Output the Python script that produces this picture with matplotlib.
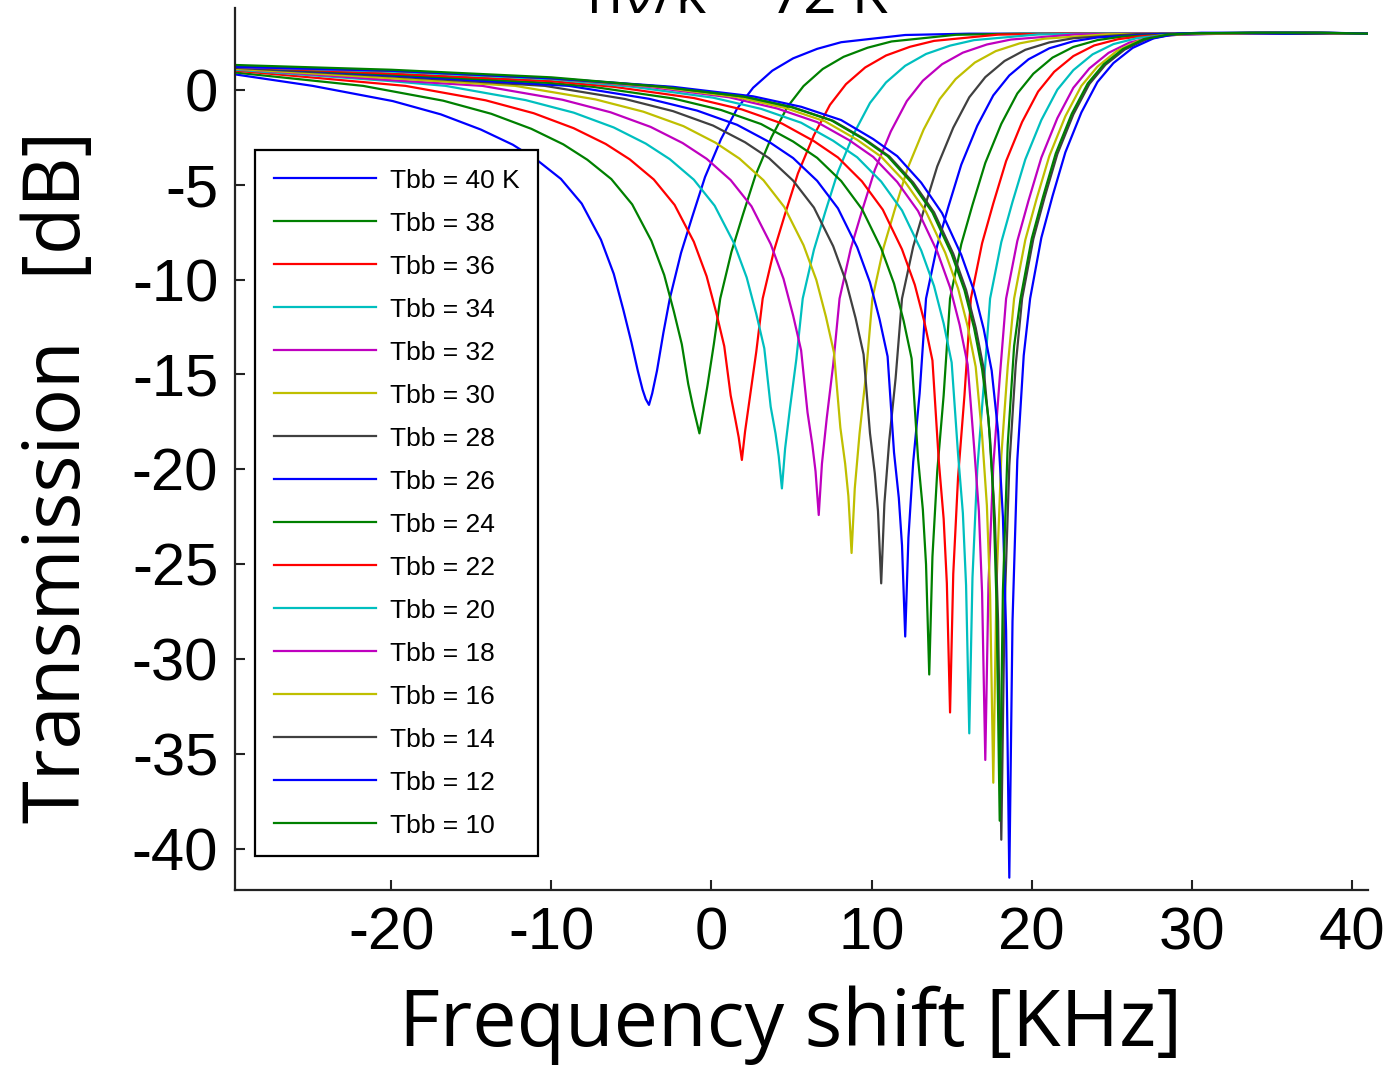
import matplotlib
matplotlib.use('Agg')
import matplotlib.pyplot as plt

plt.rcParams['axes.unicode_minus'] = False

# --- data: frequency shift [KHz] and transmission [dB] per curve
tbb_labels = ['Tbb = 40 K', 'Tbb = 38', 'Tbb = 36', 'Tbb = 34', 'Tbb = 32', 'Tbb = 30',
              'Tbb = 28', 'Tbb = 26', 'Tbb = 24', 'Tbb = 22', 'Tbb = 20', 'Tbb = 18',
              'Tbb = 16', 'Tbb = 14', 'Tbb = 12', 'Tbb = 10']

shift_40 = [-29.7, -24.9, -19.9, -16.9, -14.4, -12.4, -10.9, -9.4, -8.1, -6.9, -6.1, -5.5, -5.0, -4.6, -4.3, -4.1, -3.9,
            -3.7, -3.4, -3.0, -2.6, -1.9, -1.2, -0.4, 0.6, 1.6, 2.6, 3.8, 5.1, 6.6, 8.1, 12.1, 16.1, 41]
trans_40 = [0.8, 0.2, -0.6, -1.3, -2.1, -2.9, -3.7, -4.7, -6.0, -7.9, -9.7, -11.6, -13.3, -14.8, -15.8, -16.3, -16.6,
            -16.0, -14.8, -12.8, -11.0, -8.6, -6.7, -4.6, -2.6, -1.0, 0.1, 1.0, 1.65, 2.15, 2.5, 2.88, 2.95, 2.95]

shift_38 = [-29.7, -21.75, -16.75, -13.75, -11.25, -9.25, -7.75, -6.25, -4.95, -3.75, -2.95, -2.35, -1.85, -1.45, -1.15, -0.95, -0.75,
            -0.55, -0.25, 0.15, 0.55, 1.25, 1.95, 2.75, 3.75, 4.75, 5.75, 6.95, 8.25, 9.75, 11.25, 15.25, 19.25, 41]
trans_38 = [0.9, 0.2, -0.58, -1.27, -2.06, -2.88, -3.69, -4.71, -6.04, -7.96, -9.76, -11.67, -13.41, -15.5, -16.7, -17.4, -18.1,
            -17.1, -15.6, -13.4, -11.0, -8.54, -6.62, -4.51, -2.5, -0.9, 0.19, 1.09, 1.73, 2.21, 2.54, 2.89, 2.95, 2.95]

shift_36 = [-29.7, -19.1, -14.1, -11.1, -8.6, -6.6, -5.1, -3.6, -2.3, -1.1, -0.3, 0.3, 0.8, 1.2, 1.5, 1.7, 1.9,
            2.1, 2.4, 2.8, 3.2, 3.9, 4.6, 5.4, 6.4, 7.4, 8.4, 9.6, 10.9, 12.4, 13.9, 17.9, 21.9, 41]
trans_36 = [1.0, 0.2, -0.56, -1.24, -2.03, -2.86, -3.67, -4.73, -6.07, -8.01, -9.83, -11.74, -13.51, -16.1, -17.4, -18.3, -19.5,
            -18.0, -16.2, -13.8, -11.0, -8.49, -6.54, -4.41, -2.4, -0.8, 0.29, 1.17, 1.8, 2.26, 2.57, 2.9, 2.95, 2.95]

shift_34 = [-29.7, -20, -16.6, -11.6, -8.6, -6.1, -4.1, -2.6, -1.1, 0.2, 1.4, 2.2, 2.8, 3.3, 3.7, 4.0, 4.2, 4.4,
            4.6, 4.9, 5.3, 5.7, 6.4, 7.1, 7.9, 8.9, 9.9, 10.9, 12.1, 13.4, 14.9, 16.4, 20.4, 24.4, 41]
trans_34 = [1.05, 0.45, 0.2, -0.55, -1.21, -1.99, -2.84, -3.66, -4.74, -6.11, -8.07, -9.89, -11.81, -13.62, -16.7, -18.1, -19.3, -21.0,
            -18.9, -16.8, -14.2, -11.0, -8.43, -6.46, -4.32, -2.3, -0.7, 0.38, 1.26, 1.88, 2.32, 2.61, 2.91, 2.95, 2.95]

shift_32 = [-29.7, -20, -14.3, -9.3, -6.3, -3.8, -1.8, -0.3, 1.2, 2.5, 3.7, 4.5, 5.1, 5.6, 6.0, 6.3, 6.5, 6.7,
            6.9, 7.2, 7.6, 8.0, 8.7, 9.4, 10.2, 11.2, 12.2, 13.2, 14.4, 15.7, 17.2, 18.7, 22.7, 26.7, 41]
trans_32 = [1.1, 0.5, 0.2, -0.53, -1.19, -1.96, -2.81, -3.64, -4.76, -6.14, -8.13, -9.96, -11.89, -13.73, -17.0, -18.7, -20.1, -22.4,
            -19.7, -17.3, -14.5, -11.0, -8.37, -6.39, -4.23, -2.2, -0.6, 0.47, 1.34, 1.95, 2.38, 2.64, 2.91, 2.95, 2.95]

shift_30 = [-29.7, -20, -12.25, -7.25, -4.25, -1.75, 0.25, 1.75, 3.25, 4.55, 5.75, 6.55, 7.15, 7.65, 8.05, 8.35, 8.55, 8.75,
            8.95, 9.25, 9.65, 10.05, 10.75, 11.45, 12.25, 13.25, 14.25, 15.25, 16.45, 17.75, 19.25, 20.75, 24.75, 28.75, 41]
trans_30 = [1.1, 0.6, 0.2, -0.51, -1.16, -1.92, -2.79, -3.63, -4.77, -6.18, -8.19, -10.02, -11.96, -13.84, -17.8, -19.7, -21.4, -24.4,
            -21.0, -18.1, -15.0, -11.0, -8.31, -6.31, -4.14, -2.1, -0.5, 0.56, 1.43, 2.03, 2.44, 2.68, 2.92, 2.95, 2.95]

shift_28 = [-29.7, -20, -10.4, -5.4, -2.4, 0.1, 2.1, 3.6, 5.1, 6.4, 7.6, 8.4, 9.0, 9.5, 9.9, 10.2, 10.4, 10.6,
            10.8, 11.1, 11.5, 11.9, 12.6, 13.3, 14.1, 15.1, 16.1, 17.1, 18.3, 19.6, 21.1, 22.6, 26.6, 30.6, 41]
trans_28 = [1.15, 0.7, 0.2, -0.49, -1.13, -1.89, -2.77, -3.61, -4.79, -6.21, -8.24, -10.09, -12.03, -13.94, -18.1, -20.2, -22.2, -26.0,
            -21.8, -18.5, -15.2, -11.0, -8.26, -6.23, -4.04, -2.0, -0.4, 0.66, 1.51, 2.1, 2.49, 2.71, 2.93, 2.95, 2.95]

shift_26 = [-29.7, -20, -8.9, -3.9, -0.9, 1.6, 3.6, 5.1, 6.6, 7.9, 9.1, 9.9, 10.5, 11.0, 11.4, 11.7, 11.9, 12.1,
            12.3, 12.6, 13.0, 13.4, 14.1, 14.8, 15.6, 16.6, 17.6, 18.6, 19.8, 21.1, 22.6, 24.1, 28.1, 32.1, 41]
trans_26 = [1.2, 0.75, 0.2, -0.48, -1.1, -1.85, -2.75, -3.6, -4.8, -6.25, -8.3, -10.15, -12.1, -14.05, -19.1, -21.5, -24.0, -28.8,
            -23.6, -19.6, -16.0, -11.0, -8.2, -6.15, -3.95, -1.9, -0.3, 0.75, 1.6, 2.18, 2.55, 2.75, 2.94, 2.95, 2.95]

shift_24 = [-29.7, -20, -10, -7.4, -2.4, 0.6, 3.1, 5.1, 6.6, 8.1, 9.4, 10.6, 11.4, 12.0, 12.5, 12.9, 13.2, 13.4, 13.6,
            13.8, 14.1, 14.5, 14.9, 15.6, 16.3, 17.1, 18.1, 19.1, 20.1, 21.3, 22.6, 24.1, 25.6, 29.6, 33.6, 41]
trans_24 = [1.2, 0.8, 0.35, 0.15, -0.46, -1.07, -1.81, -2.73, -3.59, -4.81, -6.29, -8.36, -10.21, -12.17, -14.16, -19.4, -22.1, -25.0, -30.8,
            -24.6, -20.1, -16.1, -11.0, -8.14, -6.07, -3.86, -1.8, -0.2, 0.84, 1.69, 2.25, 2.61, 2.79, 2.95, 3.0, 2.95]

shift_22 = [-29.7, -20, -10, -6.1, -1.1, 1.9, 4.4, 6.4, 7.9, 9.4, 10.7, 11.9, 12.7, 13.3, 13.8, 14.2, 14.5, 14.7, 14.9,
            15.1, 15.4, 15.8, 16.2, 16.9, 17.6, 18.4, 19.4, 20.4, 21.4, 22.6, 23.9, 25.4, 26.9, 30.9, 34.9, 41]
trans_22 = [1.2, 0.85, 0.45, 0.15, -0.44, -1.04, -1.78, -2.71, -3.57, -4.83, -6.32, -8.41, -10.28, -12.24, -14.26, -19.6, -22.6, -26.0, -32.8,
            -25.5, -20.4, -16.1, -11.0, -8.09, -5.99, -3.76, -1.7, -0.1, 0.94, 1.77, 2.33, 2.66, 2.82, 2.96, 3.0, 2.95]

shift_20 = [-29.7, -20, -10, -4.9, 0.1, 3.1, 5.6, 7.6, 9.1, 10.6, 11.9, 13.1, 13.9, 14.5, 15.0, 15.4, 15.7, 15.9, 16.1,
            16.3, 16.6, 17.0, 17.4, 18.1, 18.8, 19.6, 20.6, 21.6, 22.6, 23.8, 25.1, 26.6, 28.1, 32.1, 36.1, 41]
trans_20 = [1.2, 0.95, 0.55, 0.15, -0.42, -1.01, -1.74, -2.69, -3.56, -4.84, -6.36, -8.47, -10.34, -12.31, -14.37, -19.2, -22.3, -26.1, -33.9,
            -25.7, -20.0, -15.6, -11.0, -8.03, -5.91, -3.67, -1.6, 0.0, 1.03, 1.86, 2.4, 2.72, 2.86, 2.97, 3.0, 2.95]

shift_18 = [-29.7, -20, -10, -3.9, 1.1, 4.1, 6.6, 8.6, 10.1, 11.6, 12.9, 14.1, 14.9, 15.5, 16.0, 16.4, 16.7, 16.9, 17.1,
            17.3, 17.6, 18.0, 18.4, 19.1, 19.8, 20.6, 21.6, 22.6, 23.6, 24.8, 26.1, 27.6, 29.1, 33.1, 37.1, 41]
trans_18 = [1.2, 1.0, 0.6, 0.15, -0.4, -0.99, -1.71, -2.66, -3.54, -4.86, -6.39, -8.53, -10.41, -12.39, -14.48, -18.8, -22.2, -26.5, -35.3,
            -26.0, -19.8, -15.2, -11.0, -7.97, -5.84, -3.58, -1.5, 0.1, 1.12, 1.94, 2.48, 2.78, 2.89, 2.97, 3.0, 2.95]

shift_16 = [-29.7, -20, -10, -3.4, 1.6, 4.6, 7.1, 9.1, 10.6, 12.1, 13.4, 14.6, 15.4, 16.0, 16.5, 16.9, 17.2, 17.4, 17.6,
            17.8, 18.1, 18.5, 18.9, 19.6, 20.3, 21.1, 22.1, 23.1, 24.1, 25.3, 26.6, 28.1, 29.6, 33.6, 37.6, 41]
trans_16 = [1.25, 1.0, 0.6, 0.15, -0.39, -0.96, -1.67, -2.64, -3.53, -4.87, -6.43, -8.59, -10.47, -12.46, -14.59, -18.2, -21.9, -26.6, -36.5,
            -26.1, -19.3, -14.6, -11.0, -7.91, -5.76, -3.49, -1.4, 0.2, 1.21, 2.03, 2.55, 2.84, 2.93, 2.98, 3.0, 2.95]

shift_14 = [-29.7, -20, -10, -2.9, 2.1, 5.1, 7.6, 9.6, 11.1, 12.6, 13.9, 15.1, 15.9, 16.5, 17.0, 17.4, 17.7, 17.9, 18.1,
            18.3, 18.6, 19.0, 19.4, 20.1, 20.8, 21.6, 22.6, 23.6, 24.6, 25.8, 27.1, 28.6, 30.1, 34.1, 38.1, 41]
trans_14 = [1.25, 1.0, 0.6, 0.15, -0.37, -0.93, -1.64, -2.62, -3.51, -4.89, -6.46, -8.64, -10.54, -12.53, -14.69, -18.4, -22.6, -28.0, -39.5,
            -27.5, -19.8, -14.5, -11.0, -7.86, -5.68, -3.39, -1.3, 0.3, 1.31, 2.11, 2.63, 2.89, 2.96, 2.99, 3.0, 2.95]

shift_12 = [-29.7, -20, -10, -2.4, 2.6, 5.6, 8.1, 10.1, 11.6, 13.1, 14.4, 15.6, 16.4, 17.0, 17.5, 17.9, 18.2, 18.4, 18.6,
            18.8, 19.1, 19.5, 19.9, 20.6, 21.3, 22.1, 23.1, 24.1, 25.1, 26.3, 27.6, 29.1, 30.6, 34.6, 38.6, 41]
trans_12 = [1.2, 1.0, 0.6, 0.15, -0.35, -0.9, -1.6, -2.6, -3.5, -4.9, -6.5, -8.7, -10.6, -12.6, -14.8, -18.0, -22.5, -28.5, -41.5,
            -28.0, -19.5, -14.0, -11.0, -7.8, -5.6, -3.3, -1.2, 0.4, 1.4, 2.2, 2.7, 2.95, 3.0, 3.0, 3.0, 2.95]

shift_10 = [-29.7, -20, -10, -3.0, 2.0, 5.0, 7.5, 9.5, 11.0, 12.5, 13.8, 15.0, 15.8, 16.4, 16.9, 17.3, 17.6, 17.8, 18.0,
            18.2, 18.5, 18.9, 19.3, 20.0, 20.7, 21.5, 22.5, 23.5, 24.5, 25.7, 27.0, 28.5, 30.0, 34.0, 38.0, 41]
trans_10 = [1.3, 1.05, 0.65, 0.15, -0.36, -0.92, -1.62, -2.61, -3.5, -4.9, -6.47, -8.66, -10.56, -12.55, -14.72, -17.3, -21.4, -27.0, -38.5,
            -26.4, -18.7, -13.5, -11.0, -7.84, -5.66, -3.36, -1.27, 0.33, 1.34, 2.14, 2.66, 2.9, 2.97, 3.0, 3.0, 2.95]

x_ticks = [-20, -10, 0, 10, 20, 30, 40]
y_ticks = [0, -5, -10, -15, -20, -25, -30, -35, -40]

shifts = [shift_40, shift_38, shift_36, shift_34, shift_32, shift_30, shift_28, shift_26,
          shift_24, shift_22, shift_20, shift_18, shift_16, shift_14, shift_12, shift_10]
transs = [trans_40, trans_38, trans_36, trans_34, trans_32, trans_30, trans_28, trans_26,
          trans_24, trans_22, trans_20, trans_18, trans_16, trans_14, trans_12, trans_10]

# old matlab colour order b g r c m y k
matlab_colors = [(0, 0, 1), (0, 0.5, 0), (1, 0, 0), (0, 0.75, 0.75),
                 (0.75, 0, 0.75), (0.75, 0.75, 0), (0.25, 0.25, 0.25)]

fig = plt.figure(figsize=(13.89, 10.71), dpi=100)
ax = fig.add_axes([0.1692, 0.1690, 0.8157, 0.8235])

for i, (fx, ty) in enumerate(zip(shifts, transs)):
    ax.plot(fx, ty, color=matlab_colors[i % 7], linewidth=1.6, label=tbb_labels[i])

ax.set_xlim(-29.75, 41.0)
ax.set_ylim(-42.15, 4.3)
ax.set_xticks(x_ticks)
ax.set_yticks(y_ticks)

for side in ['top', 'right']:
    ax.spines[side].set_visible(False)
for side in ['left', 'bottom']:
    ax.spines[side].set_linewidth(1.6)
    ax.spines[side].set_color('#222222')

ax.tick_params(direction='in', length=7, width=1.5, color='#222222',
               labelsize=43, pad=12)
for lab in ax.get_xticklabels() + ax.get_yticklabels():
    lab.set_family('Liberation Sans')

ax.set_xlabel('Frequency shift [KHz]', fontsize=57, family='Open Sans')
ax.set_ylabel('Transmission   [dB]', fontsize=56, family='Open Sans')
ax.xaxis.set_label_coords(0.49, -0.108)
ax.yaxis.set_label_coords(-0.12, 0.468)

leg = ax.legend(loc='upper left', bbox_to_anchor=(0.0177, 0.839), borderaxespad=0,
                prop={'family': 'Liberation Sans', 'size': 19}, handlelength=3.9,
                handletextpad=0.5, labelspacing=0.72, borderpad=0.7,
                fancybox=False, framealpha=1)
leg.get_frame().set_edgecolor('black')
leg.get_frame().set_linewidth(1.6)

# title sits half outside the picture, as in the original
fig.text(0.531, 0.988, 'h\u03bd/k = 72 K', ha='center', va='baseline',
         fontsize=42, family='Open Sans')

plt.savefig('out.png', dpi=100)
